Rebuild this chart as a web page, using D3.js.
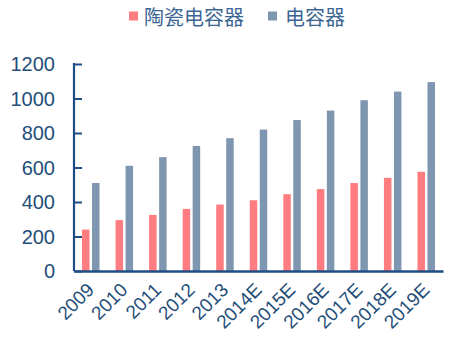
<!DOCTYPE html>
<html>
<head>
<meta charset="utf-8">
<script src="https://cdn.jsdelivr.net/npm/d3@7"></script>
<style>
  html, body { margin: 0; padding: 0; background: #fff; }
  svg { display: block; }
</style>
</head>
<body>
<svg id="chart" width="470" height="342"></svg>
<script>
// Years on the category axis
const years = ["2009", "2010", "2011", "2012", "2013", "2014E", "2015E", "2016E", "2017E", "2018E", "2019E"];
// Series values
const ceramicCap = [240, 295, 325, 360, 385, 410, 445, 475, 510, 540, 575];
const allCap = [510, 610, 660, 725, 770, 820, 875, 930, 990, 1040, 1095];
const seriesNames = ["陶瓷电容器", "电容器"];
const yTicks = [0, 200, 400, 600, 800, 1000, 1200];

const colors = ["#ff7c80", "#7f96b0"];
const axisColor = "#1f4e86";
const textColor = "#1f4e79";
const legendText = "#3b6592";

const svg = d3.select("#chart");
const plotLeft = 74, plotRight = 443, plotTop = 64, plotBottom = 271;

const x = d3.scaleBand().domain(years).range([plotLeft, plotRight]).padding(0);
const y = d3.scaleLinear().domain([0, 1200]).range([plotBottom, plotTop]);

const barW = 7.5, gap = 2.5;
const series = [ceramicCap, allCap];

// Bars
series.forEach((vals, si) => {
  svg.append("g").selectAll("rect")
    .data(years.map((yr, i) => ({ yr, v: vals[i] })))
    .join("rect")
    .attr("x", d => x(d.yr) + x.bandwidth() / 2 - (barW + gap / 2) + si * (barW + gap))
    .attr("y", d => y(d.v))
    .attr("width", barW)
    .attr("height", d => y(0) - y(d.v))
    .attr("fill", colors[si]);
});

// Y axis with inward ticks
const yAxis = svg.append("g").attr("transform", `translate(${plotLeft},0)`)
  .call(d3.axisRight(y).tickValues(yTicks).tickSize(8).tickFormat(""));
yAxis.select(".domain").remove();
yAxis.selectAll(".tick line").attr("stroke", axisColor).attr("stroke-width", 2);
svg.append("line")
  .attr("x1", plotLeft).attr("x2", plotLeft)
  .attr("y1", y(1200) - 1).attr("y2", y(0))
  .attr("stroke", axisColor).attr("stroke-width", 2.2);

svg.append("g").selectAll("text")
  .data(yTicks)
  .join("text")
  .attr("x", 55)
  .attr("y", d => y(d))
  .attr("dy", "0.36em")
  .attr("text-anchor", "end")
  .attr("font-family", "Liberation Sans, Arial, sans-serif")
  .attr("font-size", 20)
  .attr("fill", textColor)
  .text(d => d);

// X axis
const xAxis = svg.append("g").attr("transform", `translate(0,${plotBottom})`)
  .call(d3.axisBottom(x).tickSize(0).tickFormat(""));
xAxis.select(".domain").attr("stroke", axisColor).attr("stroke-width", 2.5);

svg.append("g").selectAll("text")
  .data(years)
  .join("text")
  .attr("transform", d => `translate(${x(d) + x.bandwidth() / 2 + 4.5},${plotBottom + 20}) rotate(-45)`)
  .attr("text-anchor", "end")
  .attr("font-family", "Liberation Sans, Arial, sans-serif")
  .attr("font-size", 19)
  .attr("fill", textColor)
  .text(d => d);

// Legend
const legendItems = [
  { name: seriesNames[0], color: colors[0], sx: 129, tx: 144 },
  { name: seriesNames[1], color: colors[1], sx: 268, tx: 285 }
];
const lg = svg.append("g");
legendItems.forEach(it => {
  lg.append("rect").attr("x", it.sx).attr("y", 11.5).attr("width", 9).attr("height", 9).attr("fill", it.color);
  lg.append("text")
    .attr("x", it.tx).attr("y", 16)
    .attr("dominant-baseline", "central")
    .attr("font-family", "Noto Sans CJK SC, sans-serif")
    .attr("font-size", 20)
    .attr("fill", legendText)
    .text(it.name);
});
</script>
</body>
</html>
